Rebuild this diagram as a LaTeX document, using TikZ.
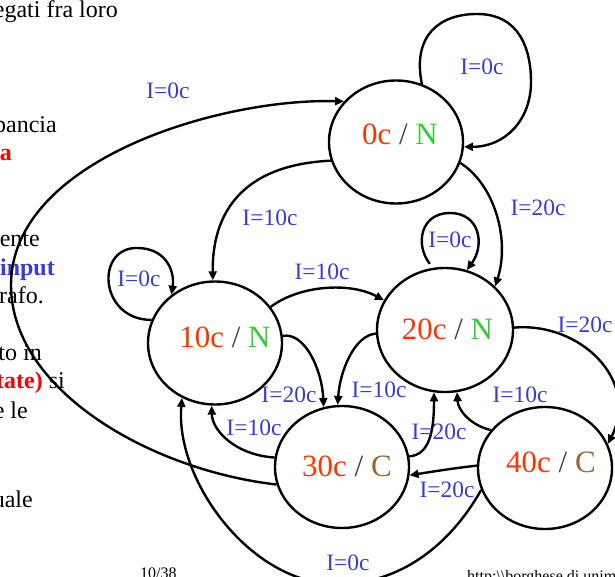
\documentclass[tikz,border=0pt]{standalone}
\usepackage{fontspec}
\setmainfont{Liberation Serif}
\usetikzlibrary{shapes.geometric,arrows.meta}

\definecolor{amount}{RGB}{255,51,0}
\definecolor{nocoffee}{RGB}{51,204,51}
\definecolor{coffee}{RGB}{153,102,51}
\definecolor{slashgray}{RGB}{64,64,64}
\definecolor{inputblue}{RGB}{60,60,210}
\definecolor{alert}{RGB}{255,0,0}

\newcommand{\stlabel}[2]{\textcolor{amount}{#1}~\textcolor{slashgray}{/}~#2}

\tikzset{
  state/.style={ellipse, draw, line width=2.4pt, inner sep=0pt,
    minimum width=134pt, minimum height=123pt},
  stname/.style={inner sep=0pt, font=\fontsize{31}{31}\selectfont},
  trans/.style={line width=2.4pt, -{Triangle[length=9pt,width=8pt]}},
  lbl/.style={text=inputblue, inner sep=0pt, font=\fontsize{23.5}{24}\selectfont},
  side/.style={anchor=base east, inner sep=0pt, font=\fontsize{24}{24}\selectfont},
  sidebold/.style={side, font={\fontsize{24}{24}\selectfont\bfseries}},
  foot/.style={anchor=base west, inner sep=0pt, font=\fontsize{16}{16}\selectfont},
}

\begin{document}
\begin{tikzpicture}[x=1pt,y=-1pt]
  \useasboundingbox (0,0) rectangle (615,577);
  \fill[white] (0,0) rectangle (615,577);
  \clip (0,0) rectangle (615,577);

  % text of the slide behind the graph
  \node[side] at (118,18) {egati fra loro};
  \node[side] at (57,133) {pancia};
  \node[sidebold, text=alert] at (12,161) {a};
  \node[side] at (40,247) {ente};
  \node[sidebold, text=inputblue] at (55,275) {input};
  \node[side] at (44,303) {rafo.};
  \node[side] at (42,360) {to in};
  \node[side] at (65,388) {\textcolor{alert}{\bfseries tate)} si};
  \node[side] at (28,418) {e le};
  \node[side] at (33,507) {uale};
  \node[foot] at (140,578) {10/38};
  \node[foot] at (467,581) {http:\textbackslash\textbackslash borghese.di.unimi};

  % states
  \node[state] (c0)  at (396,142) {};
  \node[state] (c10) at (215,343) {};
  \node[state, minimum width=136pt, minimum height=124pt] (c20) at (445,330) {};
  \node[state, minimum height=122pt] (c30) at (342,467) {};
  \node[state, minimum height=122pt] (c40) at (545,468) {};

  \node[stname] (t0)  at (400,134.5) {\stlabel{0c}{\textcolor{nocoffee}{N}}};
  \node[stname] (t10) at (225,337.5) {\stlabel{10c}{\textcolor{nocoffee}{N}}};
  \node[stname] (t20) at (447.5,329) {\stlabel{20c}{\textcolor{nocoffee}{N}}};
  \node[stname] (t30) at (347,466.5) {\stlabel{30c}{\textcolor{coffee}{C}}};
  \node[stname] (t40) at (551,462) {\stlabel{40c}{\textcolor{coffee}{C}}};

  % transitions
  \draw[trans] (c0.66) .. controls (412,35) and (440,14) .. (477,14)
    .. controls (520,14) and (531,50) .. (531,82)
    .. controls (531,120) and (505,147) .. (c0.-4);
  \draw[trans] (c30.195) .. controls (150,470) and (11,390) .. (11,285)
    .. controls (11,160) and (220,98) .. (c0.142);
  \draw[trans] (c40.199) .. controls (450,545) and (400,585) .. (335,584)
    .. controls (250,583) and (175,480) .. (c10.239);
  \draw[trans] (c0.196) .. controls (240,165) and (212,215) .. (c10.92);
  \draw[trans] (c0.-18) .. controls (495,185) and (510,240) .. (c20.41);
  \draw[trans] (c10.160) .. controls (100,320) and (95,250) .. (135,248)
    .. controls (165,247) and (175,270) .. (c10.132);
  \draw[trans] (c10.33) .. controls (300,285) and (350,282) .. (c20.154);
  \draw[trans] (c10.6) .. controls (305,332) and (322,370) .. (c30.107);
  \draw[trans] (c20.183) .. controls (355,335) and (340,370) .. (c30.94);
  \draw[trans, shorten <=5pt] (c20.101) .. controls (415,245) and (420,213) .. (450,213)
    .. controls (480,213) and (485,245) .. (c20.70);
  \draw[trans] (c20.2) .. controls (580,322) and (640,380) .. (c40.21);
  \draw[trans] (c30.172) .. controls (235,455) and (212,430) .. (c10.267);
  \draw[trans] (c30.9) .. controls (430,455) and (434,430) .. (c20.260);
  \draw[trans] (c40.145) .. controls (470,425) and (458,410) .. (c20.281);
  \draw[trans] (c40.178) .. controls (455,468) and (430,472) .. (c30.353);

  % transition labels
  \node[lbl] (l1)  at (482,67)  {I=0c};
  \node[lbl] (l2)  at (168,91)  {I=0c};
  \node[lbl] (l3)  at (270,218) {I=10c};
  \node[lbl] (l4)  at (538,208) {I=20c};
  \node[lbl] (l5)  at (139,279) {I=0c};
  \node[lbl] (l6)  at (322,272) {I=10c};
  \node[lbl] (l7)  at (450,240) {I=0c};
  \node[lbl] (l8)  at (585,325) {I=20c};
  \node[lbl] (l9)  at (289,395) {I=20c};
  \node[lbl] (l10) at (379,390) {I=10c};
  \node[lbl] (l11) at (254,428) {I=10c};
  \node[lbl] (l12) at (439,432) {I=20c};
  \node[lbl] (l13) at (520,395) {I=10c};
  \node[lbl] (l14) at (447,490) {I=20c};
  \node[lbl] (l15) at (348,563) {I=0c};
\end{tikzpicture}
\end{document}
